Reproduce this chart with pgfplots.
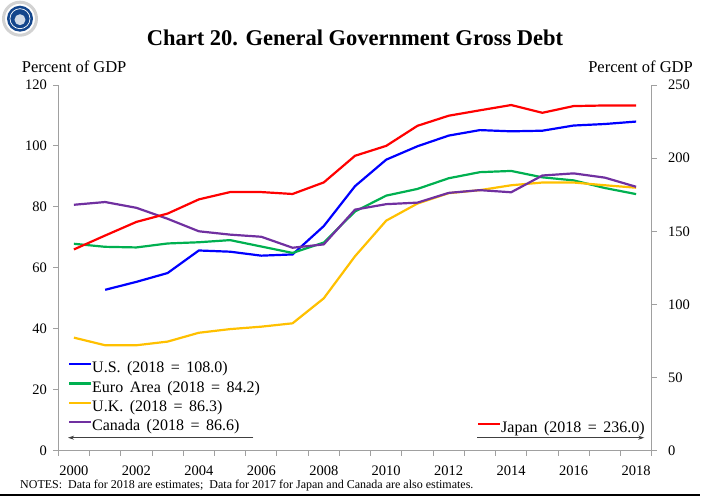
\documentclass[border=0pt]{standalone}
\usepackage{pgfplots}
\pgfplotsset{compat=1.18}
\usepackage{fontspec}
\setmainfont{Liberation Serif}
\usetikzlibrary{arrows.meta}
\definecolor{cUS}{RGB}{0,0,255}
\definecolor{cEU}{RGB}{0,176,80}
\definecolor{cUK}{RGB}{255,192,0}
\definecolor{cCA}{RGB}{112,48,160}
\definecolor{cJP}{RGB}{255,0,0}
\definecolor{axgray}{RGB}{160,160,160}
\definecolor{logoblue}{RGB}{20,70,140}
\newcommand{\lsp}{\hspace{6.5pt}}
\begin{document}
\begin{tikzpicture}
\pgfplotsset{
  base/.style={
    scale only axis, width=593.4pt, height=365.7pt,
    at={(0pt,0pt)}, anchor=south west,
    xmin=-0.5, xmax=18.5,
    axis line style={draw=axgray, line width=0.9pt},
    tick style={draw=axgray, line width=0.9pt},
    tick align=outside, major tick length=5pt,
    /pgf/number format/assume math mode=true,
    /pgf/number format/1000 sep={},
    ticklabel style={font=\fontsize{14.5}{17}\selectfont},
    legend cell align=left,
    legend image code/.code={\draw[##1, line width=2.2pt] (0pt,4.5pt) -- (22pt,4.5pt);},
  },
  leg/.style={draw=none, fill=none, inner sep=0pt, outer sep=0pt,
    row sep=5.4pt,
    nodes={inner sep=0pt, text height=11pt, text depth=3pt},
    /tikz/every even column/.append style={column sep=1pt},
    font=\fontsize{16}{19}\selectfont},
}
\begin{axis}[base,
  axis y line*=left, axis x line*=bottom,
  ymin=0, ymax=120, ytick={0,20,...,120},
  xtick={-0.5,0.5,...,18.5}, xticklabels={},
  extra x ticks={0,2,...,18},
  extra x tick labels={2000,2002,2004,2006,2008,2010,2012,2014,2016,2018},
  extra x tick style={major tick length=0pt, xticklabel style={yshift=-11.5pt}},
  yticklabel style={xshift=-3pt},
  legend style={leg, at={(axis description cs:0.01635,0.2435)}, anchor=north west},
]
\addplot[cUS, line width=2.2pt] coordinates {
(1,52.8)(2,55.4)(3,58.3)(4,65.7)(5,65.3)(6,64.0)(7,64.4)(8,73.7)(9,86.8)
(10,95.5)(11,99.9)(12,103.4)(13,105.2)(14,104.8)(15,105.0)(16,106.7)(17,107.2)(18,108.0)};
\addlegendentry{U.S.\lsp(2018\lsp=\lsp108.0)}
\addplot[cEU, line width=2.2pt] coordinates {
(0,67.9)(1,66.9)(2,66.7)(3,68.0)(4,68.4)(5,69.1)(6,67.0)(7,64.9)(8,68.3)(9,78.5)
(10,83.7)(11,85.9)(12,89.4)(13,91.4)(14,91.8)(15,89.7)(16,88.7)(17,86.2)(18,84.2)};
\addlegendentry{Euro\lsp Area\lsp(2018\lsp=\lsp84.2)}
\addplot[cUK, line width=2.2pt] coordinates {
(0,37.1)(1,34.6)(2,34.6)(3,35.8)(4,38.7)(5,39.9)(6,40.7)(7,41.8)(8,50.0)(9,63.8)
(10,75.5)(11,81.1)(12,84.5)(13,85.5)(14,87.1)(15,88.0)(16,88.0)(17,87.1)(18,86.3)};
\addlegendentry{U.K.\lsp(2018\lsp=\lsp86.3)}
\addplot[cCA, line width=2.2pt] coordinates {
(0,80.7)(1,81.6)(2,79.7)(3,76.1)(4,72.0)(5,70.9)(6,70.2)(7,66.6)(8,67.7)(9,79.1)
(10,80.9)(11,81.4)(12,84.6)(13,85.5)(14,84.8)(15,90.3)(16,91.0)(17,89.6)(18,86.6)};
\addlegendentry{Canada\lsp(2018\lsp=\lsp86.6)}
\draw[black!75, line width=0.8pt, -{Stealth[length=6pt,width=4pt]}]
  (axis description cs:0.3286,0.0355) -- (axis description cs:0.01635,0.0355);
\end{axis}
\begin{axis}[base,
  axis y line*=right, axis x line=none,
  ymin=0, ymax=250, ytick={0,50,...,250},
  yticklabel style={xshift=8pt},
  legend style={leg, at={(axis description cs:0.7056,0.0804)}, anchor=north west},
]
\addplot[cJP, line width=2.2pt] coordinates {
(0,137.6)(1,147.1)(2,156.4)(3,162.1)(4,171.8)(5,176.8)(6,176.8)(7,175.5)(8,183.4)(9,201.6)
(10,208.4)(11,222.1)(12,229.0)(13,232.7)(14,236.3)(15,231.0)(16,235.6)(17,236.0)(18,236.0)};
\addlegendentry{Japan\lsp(2018\lsp=\lsp236.0)}
\draw[black!75, line width=0.8pt, -{Stealth[length=6pt,width=4pt]}]
  (axis description cs:0.7056,0.0355) -- (axis description cs:0.9875,0.0355);
\end{axis}
\node[anchor=base, font=\fontsize{22.5}{26}\selectfont\bfseries] at (296.7pt,405pt) {Chart 20. General Government Gross Debt};
\node[anchor=base west, inner sep=0pt, font=\fontsize{16.5}{19}\selectfont] at (-36.6pt,378.4pt) {Percent of GDP};
\node[anchor=base east, inner sep=0pt, font=\fontsize{16.5}{19}\selectfont] at (634.7pt,378.4pt) {Percent of GDP};
\node[anchor=base west, inner sep=0pt, font=\fontsize{12}{14}\selectfont] at (-38.3pt,-37.8pt) {NOTES:\ \ Data for 2018 are estimates;\ \ Data for 2017 for Japan and Canada are also estimates.};
\draw[black, line width=1.5pt] (-58.3pt,-44.3pt) -- (641.7pt,-44.3pt);
% logo
\draw[gray!35, line width=3pt] (-38.3pt,432pt) circle (16.5pt);
\fill[logoblue] (-38.3pt,432pt) circle (13pt);
\draw[white, line width=0.7pt] (-38.3pt,432pt) circle (10pt);
\fill[white!80!logoblue] (-38.3pt,431pt) circle (5.5pt);
\pgfresetboundingbox
\useasboundingbox (-58.3pt,-45.3pt) rectangle (651.7pt,450.7pt);
\end{tikzpicture}
\end{document}
